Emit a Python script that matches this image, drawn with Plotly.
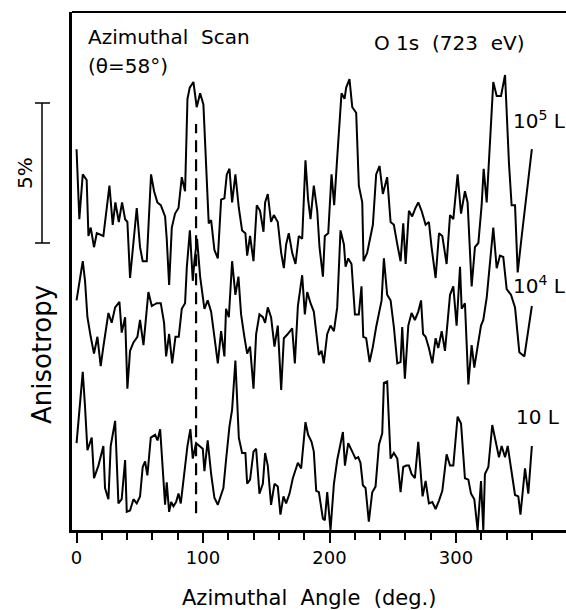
import plotly.graph_objects as go

# ---------------- data (anisotropy in %, curves carry their own vertical offset) -------------
angle_1e5 = [0, 2.2, 4.9, 8.0, 9.4, 11.2, 13.8, 16.0, 21.2, 26.0, 28.6, 30.7, 33.4, 36.0, 38.4,
             40.2, 42.3, 47.6, 50.2, 52.3, 55.5, 58.9, 61.3, 63.9, 66.6, 70.0, 71.3, 73.2, 75.3,
             77.9, 80.6, 83.2, 85.8, 87.7, 89.5, 92.4, 95.0, 97.7, 100.3, 102.4, 104.5, 106.4,
             109.0, 111.7, 114.3, 116.9, 118.8, 120.9, 123.0, 125.6, 128.3, 130.9, 133.5, 134.9,
             137.2, 139.9, 142.5, 145.1, 147.8, 149.1, 151.2, 153.8, 156.0, 159.1, 161.8, 163.9,
             165.7, 167.8, 170.5, 173.1, 175.7, 178.4, 181.0, 183.1, 185.0, 187.6, 190.3, 192.1,
             194.8, 196.3, 199.0, 201.6, 203.7, 206.1, 209.5, 211.9, 213.2, 215.8, 218.0, 221.1,
             223.2, 225.9, 226.9, 229.8, 234.3, 236.9, 239.6, 242.2, 245.6, 248.3, 250.9, 253.6,
             256.2, 258.3, 260.2, 262.8, 265.4, 268.0, 270.2, 272.8, 276.0, 278.6, 280.7, 283.9,
             286.6, 289.2, 292.6, 295.3, 297.9, 301.3, 304.0, 307.1, 309.2, 312.4, 315.0, 317.7,
             320.3, 321.9, 324.3, 329.5, 332.2, 335.6, 338.8, 341.9, 344.0, 346.7, 348.8, 352.0,
             360.0]
aniso_1e5 = [13.6, 11.1, 12.7, 12.5, 10.5, 10.8, 10.1, 10.6, 10.5, 12.3, 10.9, 11.7, 11.0, 11.7, 11.1,
             11.0, 9.0, 11.5, 10.1, 9.6, 9.6, 12.7, 12.1, 11.7, 11.6, 11.2, 10.4, 8.75, 10.8,
             11.3, 11.5, 12.6, 12.1, 15.4, 15.8, 16.0, 15.1, 15.6, 15.2, 12.9, 10.95, 11.07,
             10.0, 9.7, 11.8, 11.85, 12.7, 12.9, 11.7, 12.7, 11.5, 10.7, 10.6, 9.8,
             10.5, 9.6, 11.6, 11.4, 10.65, 11.7, 12.0, 11.0, 11.25, 11.0, 9.9, 9.35,
             10.2, 10.6, 9.9, 9.5, 10.5, 10.4, 13.2, 11.8, 11.1, 12.3, 11.4, 10.1,
             9.05, 10.5, 10.6, 12.7, 11.6, 13.3, 15.6, 15.4, 15.8, 16.1, 15.1, 14.9,
             12.3, 11.7, 9.6, 9.9, 10.9, 12.7, 13.0, 12.0, 12.6, 11.0, 10.9, 10.2,
             9.6, 10.95, 9.5, 11.4, 11.2, 11.5, 11.7, 11.4, 10.9, 11.0, 10.1, 9.0,
             10.6, 10.5, 9.5, 11.25, 11.1, 12.7, 11.3, 12.1, 11.7, 8.7, 10.1, 10.25,
             11.6, 12.9, 11.7, 16.0, 15.5, 15.5, 16.25, 13.1, 11.6, 11.6, 9.2, 10.5,
             13.6]

angle_1e4 = [0, 4.9, 6.7, 8.6, 11.2, 13.8, 16.5, 19.1, 21.2, 22.5, 25.2, 27.8, 30.5, 33.9, 35.7,
             38.4, 40.2, 42.3, 45.0, 48.1, 50.2, 52.9, 56.8, 59.5, 63.4, 66.6, 69.2, 70.8, 73.2,
             75.6, 78.2, 80.8, 83.2, 85.8, 87.2, 89.6, 91.9, 93.2, 95.3, 97.7, 101.1, 103.7,
             106.4, 109.0, 111.7, 114.3, 116.9, 118.2, 120.4, 123.0, 125.6, 128.0, 130.1, 132.7,
             134.9, 137.2, 139.9, 142.0, 144.6, 147.3, 149.1, 151.2, 153.8, 156.5, 159.1, 161.8,
             163.9, 167.0, 170.5, 172.6, 175.0, 178.4, 180.5, 182.4, 185.0, 187.6, 190.3, 191.6,
             193.7, 195.5, 198.2, 200.8, 203.5, 206.1, 208.7, 211.4, 212.7, 214.8, 217.4, 220.1,
             223.2, 225.3, 226.7, 229.0, 231.7, 234.3, 236.9, 241.2, 243.0, 245.6, 248.3, 250.9,
             253.6, 256.2, 257.5, 259.6, 262.3, 264.9, 267.5, 270.2, 272.4, 274.0, 276.0, 278.6,
             281.3, 283.9, 286.0, 288.7, 291.3, 295.3, 297.9, 300.5, 303.2, 304.5, 307.1, 309.8,
             312.4, 314.5, 317.1, 319.8, 321.6, 324.3, 329.5, 332.2, 334.8, 337.4, 340.1, 343.5,
             346.7, 350.1, 354.1, 360.0]
aniso_1e4 = [8.2, 9.6, 8.9, 7.6, 6.9, 6.3, 6.9, 5.85, 6.55, 6.9, 7.75, 7.4, 7.95, 8.15, 7.05,
             7.6, 5.05, 6.4, 6.7, 6.9, 7.5, 6.6, 8.5, 8.0, 8.1, 8.1, 7.4, 6.2, 7.0,
             5.95, 6.9, 6.9, 7.9, 8.1, 9.4, 10.7, 8.9, 9.6, 10.4, 9.05, 7.9, 8.2,
             7.8, 6.9, 5.95, 7.1, 6.2, 7.9, 7.6, 9.6, 8.4, 9.05, 7.7, 6.9,
             6.3, 6.55, 5.05, 7.0, 7.7, 7.6, 7.4, 7.95, 7.6, 6.55, 7.3, 5.0,
             6.85, 7.0, 7.2, 5.95, 8.0, 9.1, 7.7, 8.5, 8.1, 7.8, 6.6, 6.25,
             6.4, 5.95, 7.0, 7.3, 7.1, 7.95, 10.7, 10.2, 9.4, 9.7, 9.5, 7.7,
             7.7, 8.7, 6.9, 6.85, 6.0, 6.55, 7.25, 8.2, 9.7, 8.4, 8.2, 7.25,
             5.95, 6.0, 7.25, 5.4, 7.3, 7.75, 7.5, 7.8, 8.2, 7.0, 6.9, 6.5,
             5.95, 6.85, 6.5, 7.1, 6.4, 8.4, 8.7, 7.3, 9.4, 7.9, 8.1, 5.2,
             6.6, 5.8, 6.55, 7.3, 7.5, 8.3, 10.8, 9.35, 9.8, 9.75, 8.6, 8.4,
             7.95, 6.35, 6.2, 8.0]

angle_10 = [0, 2.2, 4.9, 6.7, 8.6, 12.0, 13.8, 17.3, 21.2, 22.5, 25.2, 27.0, 30.5, 33.1, 35.7,
            38.4, 39.7, 42.3, 45.0, 47.6, 50.2, 52.3, 54.2, 56.0, 58.7, 62.1, 64.0, 66.1, 68.7,
            70.0, 71.3, 73.2, 74.8, 76.6, 78.7, 80.6, 82.4, 85.8, 87.7, 90.0, 91.9, 94.5, 97.1,
            99.8, 101.1, 103.7, 106.4, 109.0, 111.7, 114.3, 116.1, 118.2, 120.9, 123.0, 125.6,
            128.3, 130.9, 133.5, 134.9, 137.2, 139.9, 142.0, 144.6, 147.3, 149.1, 151.2, 153.8,
            156.5, 159.1, 161.2, 163.6, 165.7, 168.4, 171.0, 175.0, 177.6, 181.0, 183.1, 185.8,
            187.6, 189.5, 191.6, 194.8, 196.3, 198.2, 200.8, 203.5, 206.1, 208.7, 210.6, 212.2,
            214.8, 218.0, 220.6, 222.7, 224.5, 226.4, 228.5, 231.1, 233.8, 236.4, 239.1, 241.7,
            243.0, 245.6, 248.3, 250.9, 253.6, 256.2, 258.3, 260.7, 262.8, 264.9, 267.5, 270.2,
            273.6, 276.0, 278.6, 281.3, 283.9, 286.6, 289.2, 292.6, 295.3, 297.9, 301.3, 304.0,
            307.1, 309.8, 311.9, 314.5, 317.1, 319.8, 321.6, 322.9, 325.6, 328.7, 331.4, 334.0,
            336.1, 338.8, 340.9, 343.5, 346.7, 349.3, 351.0, 354.6, 357.2, 360.0]
aniso_10 = [3.1, 4.35, 5.65, 4.4, 2.85, 3.3, 1.85, 2.3, 3.0, 1.5, 1.1, 3.0, 3.9, 0.95, 1.1,
            2.5, 0.65, 0.7, 1.1, 0.95, 1.2, 2.25, 2.45, 1.95, 3.3, 3.4, 3.2, 3.6, 1.6,
            0.9, 1.7, 0.65, 1.0, 0.85, 1.0, 1.3, 0.95, 2.25, 3.0, 3.6, 2.55, 3.1, 3.0,
            2.9, 2.1, 3.2, 2.0, 1.15, 0.9, 1.25, 1.5, 2.5, 3.7, 4.3, 6.05,
            3.3, 2.75, 2.75, 1.65, 1.8, 2.8, 2.9, 1.3, 1.65, 2.75, 2.3, 0.9,
            1.65, 1.55, 0.55, 1.2, 0.95, 1.3, 1.85, 2.4, 2.2, 3.85, 3.4, 3.15,
            2.8, 1.4, 1.35, 0.4, 0.35, 1.35, 0.0, 1.65, 2.5, 3.1, 3.5, 2.3,
            3.1, 2.8, 2.55, 2.6, 2.4, 1.6, 1.5, 0.3, 1.35, 1.55, 3.05, 3.45,
            5.25, 5.3, 2.55, 2.75, 2.55, 1.35, 2.25, 2.3, 2.3, 2.0, 1.85, 3.15,
            1.2, 1.75, 0.95, 1.0, 0.75, 1.05, 1.4, 2.7, 2.3, 2.3, 4.05, 3.8,
            1.85, 1.8, 1.3, 1.1, 0.0, 1.75, 0.0, 2.0, 2.25, 3.75, 3.2, 2.6,
            3.0, 2.6, 3.0, 2.15, 1.25, 1.2, 0.55, 2.2, 1.3, 3.0]

series_labels = ["10<sup>5</sup> L", "10<sup>4</sup> L", "10 L"]
marker_angle = 94.5            # dashed reference line (deg.)
marker_span = (0.6, 14.5)      # its vertical extent (%)
scale_bar_pct = 5              # length of the scale bar (%)
scale_bar_bottom = 10.25       # where the scale bar starts (%)
x_ticks = [0, 100, 200, 300]
x_minor = [20, 40, 60, 80, 120, 140, 160, 180, 220, 240, 260, 280, 320, 340, 360]

# ---------------- figure -------------
W, H = 566, 610
ML, MR, MT, MB = 72, 0, 12, 80
PW, PH = W - ML - MR, H - MT - MB
FONT = "DejaVu Sans"


def px(xp):
    return (xp - ML) / PW


def py(yp):
    return (H - MB - yp) / PH


fig = go.Figure()
for xs, ys in [(angle_1e5, aniso_1e5), (angle_1e4, aniso_1e4), (angle_10, aniso_10)]:
    fig.add_trace(go.Scatter(x=xs, y=ys, mode="lines",
                             line=dict(color="black", width=2),
                             showlegend=False, hoverinfo="skip"))

shapes = [
    # top frame line
    dict(type="line", xref="paper", yref="paper", x0=0, x1=1, y0=1, y1=1,
         line=dict(color="black", width=2)),
    # dashed reference line
    dict(type="line", xref="x", yref="y", x0=marker_angle, x1=marker_angle,
         y0=marker_span[0], y1=marker_span[1],
         line=dict(color="black", width=2.2, dash="12px,7px")),
    # scale bar
    dict(type="line", xref="paper", yref="y", x0=px(42), x1=px(42),
         y0=scale_bar_bottom, y1=scale_bar_bottom + scale_bar_pct,
         line=dict(color="black", width=1.5)),
    dict(type="line", xref="paper", yref="y", x0=px(35), x1=px(50),
         y0=scale_bar_bottom, y1=scale_bar_bottom, line=dict(color="black", width=1.5)),
    dict(type="line", xref="paper", yref="y", x0=px(35), x1=px(50),
         y0=scale_bar_bottom + scale_bar_pct, y1=scale_bar_bottom + scale_bar_pct,
         line=dict(color="black", width=1.5)),
]

ann = []


def add_text(text, x, y, size=20, xanchor="left", angle=0, yref="paper"):
    ann.append(dict(text=text, x=x, y=y, xref="paper", yref=yref, showarrow=False,
                    xanchor=xanchor, yanchor="middle", textangle=angle,
                    font=dict(family=FONT, size=size, color="black")))


add_text("Azimuthal  Scan", px(86), py(37))
add_text("(θ=58°)", px(86), py(66))
add_text("O 1s  (723  eV)", px(372), py(43))
add_text(series_labels[0], px(511), py(120))
add_text(series_labels[1], px(511), py(285))
add_text(series_labels[2], px(514), py(417))
add_text("Anisotropy", px(42), py(355), size=26, xanchor="center", angle=-90)
add_text("5%", px(25), scale_bar_bottom + scale_bar_pct / 2, size=20, xanchor="center",
         angle=-90, yref="y")
add_text("Azimuthal  Angle  (deg.)", px(309), py(598), size=21, xanchor="center")

fig.update_layout(
    width=W, height=H,
    margin=dict(l=ML, r=MR, t=MT, b=MB, pad=0),
    paper_bgcolor="white", plot_bgcolor="white",
    shapes=shapes, annotations=ann,
    xaxis=dict(range=[-3.6, 387], showline=True, linecolor="black", linewidth=2.5,
               showgrid=False, zeroline=False, ticks="outside", tickmode="array",
               tickvals=x_ticks, ticklen=10, tickwidth=2, tickcolor="black",
               tickfont=dict(family=FONT, size=18, color="black"),
               minor=dict(tickmode="array", tickvals=x_minor, ticks="outside",
                          ticklen=7, tickwidth=2, tickcolor="black", showgrid=False)),
    yaxis=dict(range=[0, 18.5], showline=True, linecolor="black", linewidth=2.5,
               showgrid=False, zeroline=False, ticks="", showticklabels=False),
)

fig.write_html("out.html", config={"displayModeBar": False},
               post_script="document.body.style.margin='0';document.body.style.overflow='hidden';")
